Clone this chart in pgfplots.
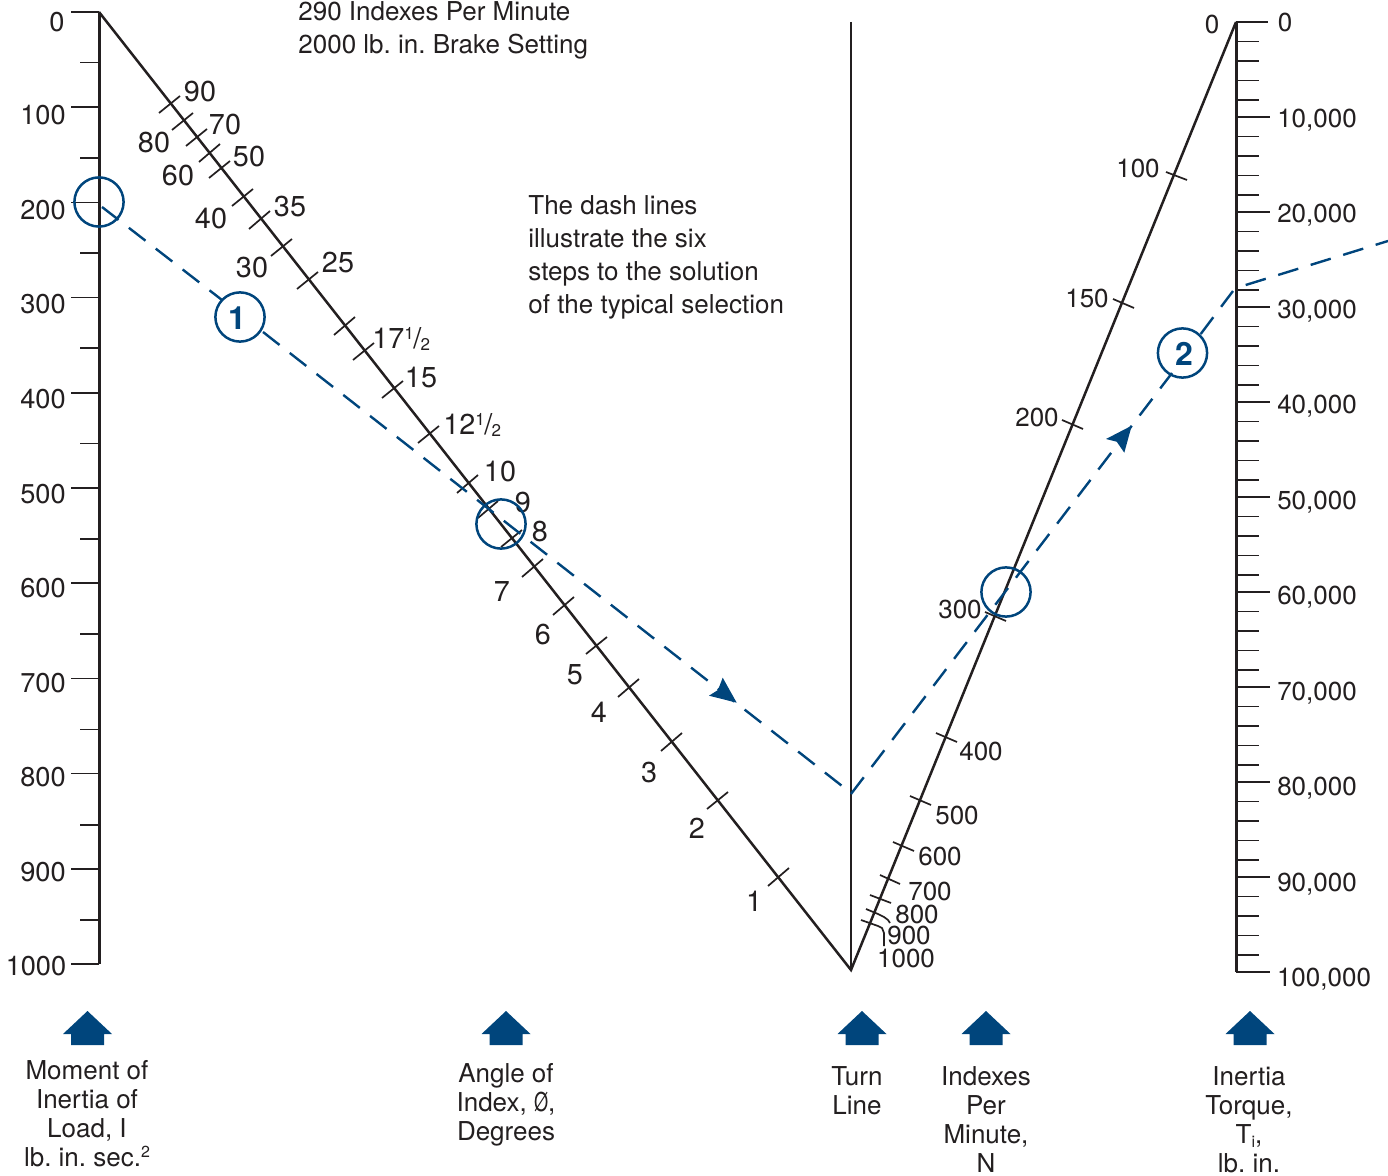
\documentclass[border=0pt]{standalone}
\usepackage{fontspec}
\setmainfont{TeX Gyre Heros}
\usepackage{graphicx}
\usepackage{pgfplots}
\pgfplotsset{compat=1.18}
\frenchspacing
\definecolor{nblue}{HTML}{00457C}
\definecolor{nink}{HTML}{231F20}
\tikzset{lab/.style={inner sep=0pt,text=nink,text height=9.4pt,text depth=0pt,font=\fontsize{13}{13}\selectfont},
         labb/.style={lab,xshift=0.5pt,yshift=-0.5pt,font=\fontsize{13.6}{13.6}\selectfont},
         labc/.style={lab,yshift=-0.5pt,font=\fontsize{14.4}{14.4}\selectfont}}
\newcommand\lab[3]{\node[lab] at (axis cs:#1,#2) {#3};}
\newcommand\labl[3]{\node[lab,anchor=west] at (axis cs:#1,#2) {#3};}
\newcommand\labb[3]{\node[labb] at (axis cs:#1,#2) {#3};}
\newcommand\labc[3]{\node[labc] at (axis cs:#1,#2) {#3};}
\newcommand\labcl[3]{\node[labc,anchor=west] at (axis cs:#1,#2) {#3};}
\newcommand\fr{\raisebox{4.5pt}{\fontsize{8.5}{8.5}\selectfont 1}\kern-0.3pt/\kern-0.3pt\raisebox{-1pt}{\fontsize{8.5}{8.5}\selectfont 2}}
\begin{document}
\begin{tikzpicture}
\clip[use as bounding box] (0,0) rectangle (694pt,588pt);
\begin{axis}[
  at={(0,0)},anchor=south west,
  scale only axis,width=694pt,height=588pt,hide axis,
  xmin=0,xmax=1388,ymin=0,ymax=1176,y dir=reverse,clip=false,
  unbounded coords=jump]
% left scale
\addplot[no marks,nink,line width=1.5pt] coordinates {(99,12)(99,964)};
\addplot[no marks,nink,line width=0.85pt] coordinates {
(71,12)(99,12)(0,nan)(80,62.6)(99,62.6)(0,nan)(71,107.2)(99,107.2)(0,nan)(80,158)(99,158)(0,nan)
(71,202.4)(99,202.4)(0,nan)(80,253.3)(99,253.3)(0,nan)(71,297.6)(99,297.6)(0,nan)(80,348.3)(99,348.3)(0,nan)
(71,392.8)(99,392.8)(0,nan)(80,443.6)(99,443.6)(0,nan)(71,488)(99,488)(0,nan)(80,539)(99,539)(0,nan)
(71,583.2)(99,583.2)(0,nan)(80,634)(99,634)(0,nan)(71,678.4)(99,678.4)(0,nan)(80,729.4)(99,729.4)(0,nan)
(71,773.6)(99,773.6)(0,nan)(80,824.8)(99,824.8)(0,nan)(71,868.8)(99,868.8)(0,nan)(80,920)(99,920)(0,nan)
(71,964)(99,964)};
% diagonals and turn line
\addplot[no marks,nink,line width=1.25pt] coordinates {(99,12)(851,970)(1236,22)};
\addplot[no marks,nink,line width=1.35pt] coordinates {(851,22)(851,970)};
% angle ticks
\addplot[no marks,nink,line width=0.85pt] coordinates {
(159,113)(180,96)(0,nan)(172,130)(193,113)(0,nan)(186,146)(207,129)(0,nan)(199,162)(220,144)(0,nan)
(209,178)(230,161)(0,nan)(232,206)(253,189)(0,nan)(249,229)(270,211)(0,nan)(271,256)(292,239)(0,nan)
(297,289)(318,272)(0,nan)(334,335)(355,317)(0,nan)(353,360)(374,343)(0,nan)(382,398)(403,381)(0,nan)
(418,443)(439,426)(0,nan)(457,493)(478,475)(0,nan)(478,518)(498,501)(0,nan)(501,547)(522,530)(0,nan)
(522,577)(543,559)(0,nan)(553,615)(574,597)(0,nan)(586,654)(607,637)(0,nan)(618,697)(639,679)(0,nan)
(661,751)(682,733)(0,nan)(707,809)(728,792)(0,nan)(768,886)(789,868)};
% indexes-per-minute ticks
\addplot[no marks,nink,line width=0.85pt] coordinates {
(1166,172)(1187,180)(0,nan)(1113,299)(1134,308)(0,nan)(1062,420)(1083,429)(0,nan)(985,612)(1006,621)(0,nan)
(936,733)(957,742)(0,nan)(910,796)(931,805)(0,nan)(893,842)(914,851)(0,nan)(880,875)(900,884)(0,nan)
(870,895)(891,903)(0,nan)(866,909)(878,914)(884,917)(888,920)(890,923)(0,nan)
(861,920)(878,926)(882,928)(884,933)(884,946)};
% right scale
\addplot[no marks,nink,line width=1.5pt] coordinates {(1236,22)(1236,972)};
\addplot[no marks,nink,line width=0.85pt] coordinates {
(1236,22)(1268,22)(0,nan)(1236,41.5)(1259,41.5)(0,nan)(1236,61)(1259,61)(0,nan)(1236,80.5)(1259,80.5)(0,nan)(1236,100)(1259,100)(0,nan)
(1236,117)(1270,117)(0,nan)(1236,136.5)(1259,136.5)(0,nan)(1236,156)(1259,156)(0,nan)(1236,175.5)(1259,175.5)(0,nan)(1236,195)(1259,195)(0,nan)
(1236,212)(1270,212)(0,nan)(1236,231.5)(1259,231.5)(0,nan)(1236,251)(1259,251)(0,nan)(1236,270.5)(1259,270.5)(0,nan)(1236,290)(1259,290)(0,nan)
(1236,307)(1270,307)(0,nan)(1236,326.5)(1259,326.5)(0,nan)(1236,346)(1259,346)(0,nan)(1236,365.5)(1259,365.5)(0,nan)(1236,385)(1259,385)(0,nan)
(1236,402)(1270,402)(0,nan)(1236,421.5)(1259,421.5)(0,nan)(1236,441)(1259,441)(0,nan)(1236,460.5)(1259,460.5)(0,nan)(1236,480)(1259,480)(0,nan)
(1236,497)(1270,497)(0,nan)(1236,516.5)(1259,516.5)(0,nan)(1236,536)(1259,536)(0,nan)(1236,555.5)(1259,555.5)(0,nan)(1236,575)(1259,575)(0,nan)
(1236,592)(1270,592)(0,nan)(1236,611.5)(1259,611.5)(0,nan)(1236,631)(1259,631)(0,nan)(1236,650.5)(1259,650.5)(0,nan)(1236,670)(1259,670)(0,nan)
(1236,687)(1270,687)(0,nan)(1236,706.5)(1259,706.5)(0,nan)(1236,726)(1259,726)(0,nan)(1236,745.5)(1259,745.5)(0,nan)(1236,765)(1259,765)(0,nan)
(1236,782)(1270,782)(0,nan)(1236,801.5)(1259,801.5)(0,nan)(1236,821)(1259,821)(0,nan)(1236,840.5)(1259,840.5)(0,nan)(1236,860)(1259,860)(0,nan)
(1236,877)(1270,877)(0,nan)(1236,896.5)(1259,896.5)(0,nan)(1236,916)(1259,916)(0,nan)(1236,935.5)(1259,935.5)(0,nan)(1236,955)(1259,955)(0,nan)
(1236,972)(1270,972)};
% dashed solution lines
\pgfplotsset{dl/.style={no marks,nblue,line width=1.2pt,dash pattern=on 10.5pt off 6.5pt}}
\addplot[dl] coordinates {(102,207)(222,300)};
\addplot[dl] coordinates {(263,332)(851,793)};
\addplot[dl] coordinates {(851,794)(1172,373)};
\addplot[dl] coordinates {(1200.7,334)(1233,291)};
\addplot[dl] coordinates {(1245.7,285)(1388,241)};
% arrow heads
\addplot[no marks,fill=nblue,draw=none] coordinates {(736.7,702.7)(722.7,677.7)(718,690)(709,695.7)} -- cycle;
\addplot[no marks,fill=nblue,draw=none] coordinates {(1131.7,425.7)(1106,439)(1116.7,441.7)(1124.3,452.7)} -- cycle;
% circles
\addplot[only marks,mark=*,mark size=12.3pt,mark options={draw=nblue,fill=white,fill opacity=0,line width=1.25pt}] coordinates {(99,202)(240,317)(501,524)(1006,592)(1182.5,353)};
% bottom arrows
\addplot[no marks,fill=nblue,draw=none] coordinates {(87.5,1011)(112,1034)(104,1034)(104,1045)(71,1045)(71,1034)(63,1034)} -- cycle;
\addplot[no marks,fill=nblue,draw=none] coordinates {(506,1011)(530.5,1034)(522.5,1034)(522.5,1045)(489.5,1045)(489.5,1034)(481.5,1034)} -- cycle;
\addplot[no marks,fill=nblue,draw=none] coordinates {(862,1011)(886.5,1034)(878.5,1034)(878.5,1045)(845.5,1045)(845.5,1034)(837.5,1034)} -- cycle;
\addplot[no marks,fill=nblue,draw=none] coordinates {(986,1011)(1010.5,1034)(1002.5,1034)(1002.5,1045)(969.5,1045)(969.5,1034)(961.5,1034)} -- cycle;
\addplot[no marks,fill=nblue,draw=none] coordinates {(1250,1011)(1274.5,1034)(1266.5,1034)(1266.5,1045)(1233.5,1045)(1233.5,1034)(1225.5,1034)} -- cycle;
% left scale labels
\labb{56}{21}{0}\labb{42}{114}{100}\labb{42}{209}{200}\labb{42}{303}{300}\labb{42}{398}{400}\labb{42}{493}{500}
\labb{42}{587}{600}\labb{42}{682}{700}\labb{42}{776}{800}\labb{42}{871}{900}\labb{35}{965}{1000}
% angle labels
\labc{200}{91}{90}\labc{225}{124}{70}\labc{154}{142}{80}\labc{249}{156}{50}\labc{178}{175}{60}\labc{290}{206}{35}
\labc{211}{218}{40}\labc{252}{267}{30}\labc{338}{262}{25}\labcl{372}{338}{17\fr}\labc{421}{377}{15}\labcl{443}{424}{12\fr}
\labc{500}{471}{10}\labc{523}{502}{9}\labc{540}{531}{8}\labc{502}{591}{7}\labc{543}{634}{6}\labc{575}{674}{5}
\labc{599}{712}{4}\labc{649}{772}{3}\labc{697}{828}{2}\labc{754}{901}{1}
% indexes labels
\lab{1212}{24}{0}\lab{1138}{168}{100}\lab{1087}{298}{150}\lab{1037}{417}{200}\lab{960}{609}{300}\lab{981}{751}{400}
\lab{957}{815}{500}\lab{940}{856}{600}\lab{930}{891}{700}\lab{917}{914}{800}\lab{909}{935}{900}\lab{906}{958}{1000}
% right labels
\lab{1285}{22}{0}\lab{1317}{118}{10,000}\lab{1317}{213}{20,000}\lab{1317}{309}{30,000}\lab{1317}{404}{40,000}
\lab{1317}{500}{50,000}\lab{1317}{595}{60,000}\lab{1317}{691}{70,000}\lab{1317}{786}{80,000}\lab{1317}{882}{90,000}\lab{1324}{977}{100,000}
% notes
\labl{298}{11}{290 Indexes Per Minute}\labl{298}{44}{2000 lb. in. Brake Setting}
\labl{528}{205}{The dash lines}\labl{528}{238}{illustrate the six}\labl{528}{271}{steps to the solution}\labl{528}{304}{of the typical selection}
% circled numbers
\node[inner sep=0pt,text=nblue,font=\fontsize{16}{16}\selectfont\bfseries] at (axis cs:237,318) {1};
\node[inner sep=0pt,text=nblue,font=\fontsize{16}{16}\selectfont\bfseries] at (axis cs:1184,354) {2};
% bottom labels
\lab{87}{1070}{Moment of}\lab{87}{1099}{Inertia of}\lab{87}{1128}{Load, I}\lab{87}{1157}{lb. in. sec.\raisebox{4.5pt}{\fontsize{8}{8}\selectfont 2}}
\lab{506}{1073}{Angle of}\lab{506}{1102}{Index, \scalebox{0.7}[1]{Ø},}\lab{506}{1131}{Degrees}
\lab{857}{1076}{Turn}\lab{857}{1105}{Line}
\lab{986}{1076}{Indexes}\lab{986}{1105}{Per}\lab{986}{1134}{Minute,}\lab{986}{1163}{N}
\lab{1249}{1076}{Inertia}\lab{1249}{1105}{Torque,}\lab{1249}{1134}{T\raisebox{-2pt}{\fontsize{8}{8}\selectfont i},}\lab{1249}{1163}{lb. in.}
\end{axis}
\end{tikzpicture}
\end{document}
